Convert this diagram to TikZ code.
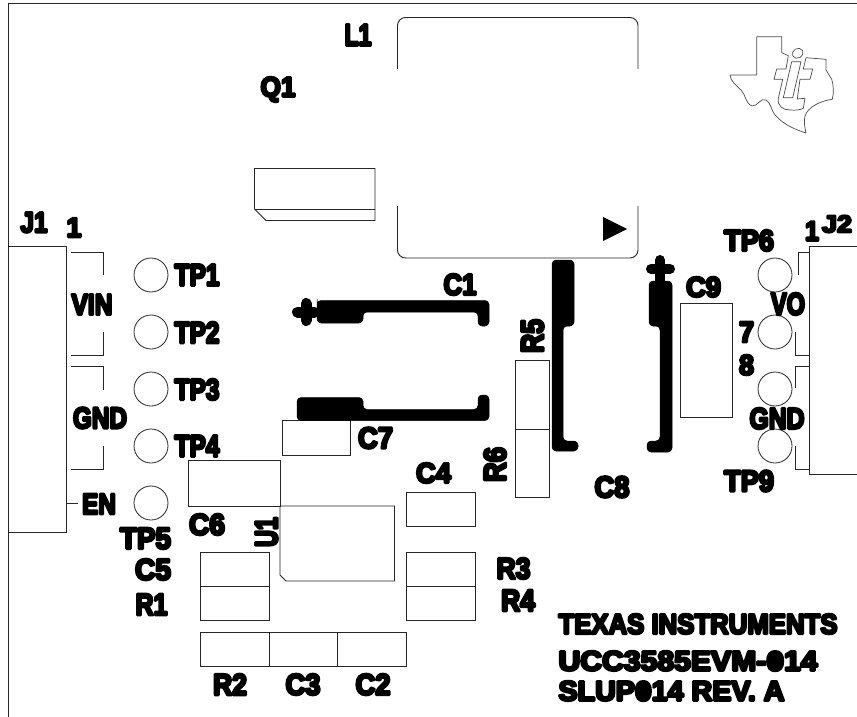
\documentclass[tikz,border=0pt]{standalone}
\usepackage{graphicx}
\usepackage{fontspec}
\setmainfont{Liberation Sans}[BoldFeatures={FakeBold=9}]
\newfontfamily\zerofont{Fira Sans}[Numbers=SlashedZero,BoldFeatures={FakeBold=9}]
\newcommand\slz{{\zerofont 0}}
\newcommand\fitlab[3]{\resizebox*{\dimexpr #1pt-3pt\relax}{\dimexpr #2pt-3pt\relax}{\bfseries #3}}
\tikzset{
  x=1pt,y=-1pt,
  ln/.style={draw=black!85,line width=0.9pt,line join=miter},
  part/.style={ln,fill=none},
  tpad/.style={circle,draw=black!85,line width=0.8pt,minimum size=34pt,inner sep=0pt},
  pour/.style={fill=black,draw=black,line width=0.5pt,rounded corners=4pt},
  lab/.style={inner sep=0pt,text=black},
  logo/.style={draw=black!70,line width=0.7pt,line join=round},
}
\begin{document}
\begin{tikzpicture}
\useasboundingbox (0,0) rectangle (857,717);
\fill[white] (0,0) rectangle (857,717);
% board edge
\coordinate (bl) at (8,717); \coordinate (tl) at (8,3); \coordinate (tr) at (857,3);
\draw[ln] (bl) -- (tl) -- (tr);
% connectors
\draw[ln] (8,246) -- (66,246) -- (66,532) -- (8,532);
\draw[ln] (857,246) -- (809,246) -- (809,474) -- (857,474);
% J1 silkscreen
\draw[ln] (71,252) -| (103,275);
\draw[ln] (71,355) -| (103,332);
\draw[ln] (71,366) -| (103,390);
\draw[ln] (71,469) -| (103,446);
\draw[ln] (66,503) -- (78,503);
% J2 silkscreen
\draw[ln] (809,252) -| (798,275);
\draw[ln] (809,355) -| (795,332);
\draw[ln] (809,366) -| (795,388);
\draw[ln] (809,469) -| (795,446);
% test points
\foreach \n/\y in {tpa/275,tpb/332,tpc/389,tpd/446,tpe/503}{\node[tpad] (\n) at (151,\y) {};}
\foreach \n/\y in {tpf/275,tpg/332,tph/389,tpi/446}{\node[tpad] (\n) at (775,\y) {};}
% parts
\draw[part] (282,420.5) rectangle (350,455);
\draw[part] (515,360.5) rectangle (549,429);
\draw[part] (515,429) rectangle (549,497.5);
\draw[part] (680.5,303) rectangle (732,417.5);
\draw[part] (188.5,460.5) rectangle (280,506);
\draw[part] (280,506) -- (394.5,506) -- (394.5,581) -- (286,581) -- (280,575) -- cycle;
\draw[part] (406,492) rectangle (475,526.5);
\draw[part] (406,552) rectangle (475,586.5);
\draw[part] (406,586.5) rectangle (475,620.5);
\draw[part] (200,552) rectangle (269,586.5);
\draw[part] (200,586.5) rectangle (269,620.5);
\draw[part] (200,632) rectangle (269,666.5);
\draw[part] (269,632) rectangle (337.5,666.5);
\draw[part] (337.5,632) rectangle (406,666.5);
% Q1
\draw[part] (254.5,168.5) -- (375,168.5) -- (375,220.5) -- (266,220.5) -- (254.5,209) -- cycle;
\draw[part] (254.5,209) -- (375,209);
% L1
\draw[ln,rounded corners=8pt] (397.5,69) -- (397.5,17.5) -- (638,17.5) -- (638,69);
\draw[ln,rounded corners=8pt] (397.5,206) -- (397.5,258) -- (638,258) -- (638,206);
\fill[black] (603,217) -- (627,229) -- (603,241) -- cycle;
% C1 copper
\path[pour] (317,303) -- (317,323) -- (363,323) -- (363,312) -- (478,312) -- (478,326) -- (489,326) -- (489,300.5) -- (317,300.5) -- cycle;
\draw[line width=11pt,line cap=round] (297.5,312) -- (314.5,312);
\draw[line width=11pt,line cap=round] (306,303.5) -- (306,320.5);
% C7 copper
\path[pour] (297,397.5) -- (297,420.5) -- (489,420.5) -- (489,395) -- (478,395) -- (478,409.5) -- (363,409.5) -- (363,397.5) -- cycle;
% C8 copper
\path[pour] (552,260) -- (552,451) -- (578,451) -- (578,441) -- (563,441) -- (563,326) -- (574,326) -- (574,260) -- cycle;
\path[pour] (649,281) -- (649,326) -- (660,326) -- (660,441) -- (647,441) -- (647,452) -- (672,452) -- (672,281) -- cycle;
\draw[line width=10pt,line cap=round] (651,269) -- (670,269);
\draw[line width=10pt,line cap=round] (660,260) -- (660,284);
% TI logo
\draw[logo] (730,75) -- (756.7,75) -- (756.7,36.7) -- (781.7,36.7) -- (781.7,52.7) -- (788.3,55.7)
  -- (786,69) -- (776.7,69) -- (774,79.3) -- (782.7,79.3) -- (778.3,98.3)
  .. controls (777,106) and (783,110) .. (790,110)
  .. controls (795,110.5) and (800,110) .. (803.3,108.3)
  -- (805,98.3) -- (797.3,99) -- (800,79.3) -- (810,79.3) -- (812.7,69) -- (803.3,69) -- (806,57.7)
  -- (826,59.3) -- (826,70) -- (831.7,79.3)
  .. controls (833.5,85) and (834,93) .. (832.3,99.3)
  .. controls (820,101) and (808,107) .. (805,116)
  .. controls (803.5,122) and (805,128) .. (806,133)
  .. controls (797,130) and (785,126) .. (775,115)
  .. controls (771,110) and (771,103) .. (766,100)
  .. controls (761,97) and (757,107) .. (752,106)
  .. controls (745,103) and (746,95) .. (741,90)
  .. controls (737,86) and (730,81) .. (730,75) -- cycle;
\draw[logo] (791.7,61.7) -- (801,61.7) -- (792.7,97.7) -- (783.3,97.7) -- cycle;
\draw[logo,rotate around={30:(797.7,53.3)}] (797.7,53.3) ellipse [x radius=5.6,y radius=4.8];
% labels
\begin{scope}[line join=round]
\node[lab] (l1) at (358,35) {\fitlab{30}{24}{L1}};
\node[lab] (q1) at (278,89.5) {\fitlab{38}{28}{Q1}};
\node[lab] (j1) at (34,222.5) {\fitlab{30}{23}{J1}};
\node[lab] (j1p) at (74,227.5) {\fitlab{18}{22}{1}};
\node[lab] (vin) at (92,304.5) {\fitlab{44}{23}{VIN}};
\node[lab] (gnd) at (100,418) {\fitlab{57}{24}{GND}};
\node[lab] (en) at (99,504) {\fitlab{37}{23}{EN}};
\node[lab] (tp1) at (197,275) {\fitlab{48}{24}{TP1}};
\node[lab] (tp2) at (197,332.5) {\fitlab{48}{24}{TP2}};
\node[lab] (tp3) at (197,389.5) {\fitlab{48}{24}{TP3}};
\node[lab] (tp4) at (197,446) {\fitlab{48}{24}{TP4}};
\node[lab] (tp5) at (145.5,538.5) {\fitlab{54}{24}{TP5}};
\node[lab] (c6) at (207,524.5) {\fitlab{39}{24}{C6}};
\node[lab] (c5) at (153,569.5) {\fitlab{39}{24}{C5}};
\node[lab] (r1) at (151.5,604.5) {\fitlab{35}{24}{R1}};
\node[lab,rotate=90] (u1) at (266.5,532) {\fitlab{33}{25}{U1}};
\node[lab] (c1) at (460,284.5) {\fitlab{36}{24}{C1}};
\node[lab] (c7) at (375.5,438) {\fitlab{38}{24}{C7}};
\node[lab] (c4) at (433.5,473) {\fitlab{38}{23}{C4}};
\node[lab,rotate=90] (r5) at (532.5,336) {\fitlab{37}{25}{R5}};
\node[lab,rotate=90] (r6) at (495,464.5) {\fitlab{38}{25}{R6}};
\node[lab] (c8) at (612,487) {\fitlab{38}{24}{C8}};
\node[lab] (c9) at (703.5,287) {\fitlab{38}{23}{C9}};
\node[lab] (r3) at (513.5,568.5) {\fitlab{37}{24}{R3}};
\node[lab] (r4) at (518,600.5) {\fitlab{37}{24}{R4}};
\node[lab] (r2) at (230,684.5) {\fitlab{37}{24}{R2}};
\node[lab] (c3) at (303,684.5) {\fitlab{38}{24}{C3}};
\node[lab] (c2) at (373,684.5) {\fitlab{38}{24}{C2}};
\node[lab] (tp6) at (749,240.5) {\fitlab{53}{24}{TP6}};
\node[lab] (j2) at (837,224) {\fitlab{33}{20}{J2}};
\node[lab] (j2p) at (812,231) {\fitlab{17}{22}{1}};
\node[lab] (vo) at (788,304) {\fitlab{37}{25}{VO}};
\node[lab] (p7) at (746.5,332) {\fitlab{18}{23}{7}};
\node[lab] (p8) at (746.5,365) {\fitlab{18}{23}{8}};
\node[lab] (gndr) at (777,418.5) {\fitlab{58}{24}{GND}};
\node[lab] (tp9) at (749,481) {\fitlab{53}{24}{TP9}};
\node[lab] (ti) at (698,624) {\fitlab{282}{23}{TEXAS INSTRUMENTS}};
\node[lab] (evm) at (688,661) {\fitlab{262}{23}{UCC3585EVM-\slz14}};
\node[lab] (rev) at (671.5,691) {\fitlab{229}{23}{SLUP\slz14 REV. A}};
\end{scope}
\end{tikzpicture}
\end{document}
